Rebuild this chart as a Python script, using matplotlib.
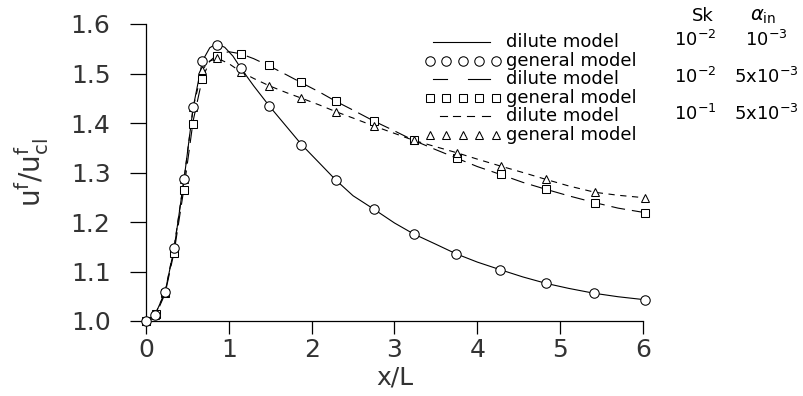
import matplotlib
matplotlib.use("Agg")
import matplotlib.pyplot as plt
from matplotlib.lines import Line2D

plt.rcParams['font.family'] = ['DejaVu Sans']
plt.rcParams['mathtext.fontset'] = 'dejavusans'
plt.rcParams['lines.scale_dashes'] = False

# general model markers
circ_x = [0.0, 0.11, 0.23, 0.34, 0.46, 0.57, 0.68, 0.855, 1.145, 1.49, 1.875, 2.29, 2.75,
          3.23, 3.74, 4.27, 4.83, 5.41, 6.02]
circ_y = [1.0, 1.013, 1.059, 1.147, 1.287, 1.432, 1.525, 1.558, 1.512, 1.434, 1.356, 1.285, 1.226,
          1.176, 1.136, 1.104, 1.076, 1.056, 1.043]

sq_x = [0.0, 0.12, 0.23, 0.34, 0.46, 0.57, 0.68, 0.855, 1.145, 1.49, 1.875, 2.29, 2.75,
        3.23, 3.75, 4.28, 4.83, 5.42, 6.02]
sq_y = [1.0, 1.0135, 1.056, 1.138, 1.265, 1.398, 1.488, 1.536, 1.539, 1.517, 1.482, 1.444, 1.404,
        1.365, 1.329, 1.297, 1.266, 1.239, 1.219]

tri_x = [0.0, 0.11, 0.23, 0.34, 0.46, 0.57, 0.68, 0.855, 1.145, 1.49, 1.875, 2.29, 2.75,
         3.23, 3.75, 4.28, 4.83, 5.42, 6.02]
tri_y = [1.0, 1.013, 1.058, 1.15, 1.287, 1.432, 1.508, 1.531, 1.504, 1.475, 1.450, 1.423, 1.394,
         1.365, 1.340, 1.313, 1.286, 1.260, 1.249]

# dilute model curves
sol_x = [0.0, 0.11, 0.23, 0.34, 0.46, 0.57, 0.68, 0.77, 0.85, 0.95, 1.05, 1.14, 1.3, 1.49, 1.7,
         1.88, 2.1, 2.29, 2.5, 2.75, 3.0, 3.23, 3.5, 3.74, 4.0, 4.27, 4.55, 4.83, 5.1, 5.41, 5.7, 6.02]
sol_y = [1.0, 1.013, 1.058, 1.147, 1.287, 1.432, 1.525, 1.552, 1.56, 1.553, 1.535, 1.512, 1.475,
         1.434, 1.392, 1.356, 1.318, 1.285, 1.253, 1.226, 1.198, 1.176, 1.155, 1.136, 1.119, 1.104,
         1.089, 1.076, 1.066, 1.056, 1.049, 1.043]

ld_x = [0.0, 0.12, 0.23, 0.34, 0.46, 0.57, 0.68, 0.77, 0.86, 1.0, 1.14, 1.3, 1.49, 1.7, 1.88,
        2.1, 2.29, 2.5, 2.75, 3.0, 3.23, 3.5, 3.75, 4.0, 4.28, 4.55, 4.83, 5.1, 5.42, 5.7, 6.02]
ld_y = [1.0, 1.013, 1.055, 1.14, 1.27, 1.405, 1.49, 1.525, 1.538, 1.544, 1.540, 1.53, 1.515,
        1.497, 1.481, 1.462, 1.444, 1.426, 1.404, 1.384, 1.365, 1.346, 1.329, 1.312, 1.296, 1.28,
        1.266, 1.253, 1.239, 1.228, 1.219]

sd_x = [0.0, 0.11, 0.23, 0.34, 0.46, 0.57, 0.68, 0.77, 0.86, 1.0, 1.14, 1.3, 1.49, 1.7, 1.88,
        2.1, 2.29, 2.5, 2.75, 3.0, 3.23, 3.5, 3.75, 4.0, 4.28, 4.55, 4.83, 5.1, 5.42, 5.7, 6.02]
sd_y = [1.0, 1.013, 1.058, 1.15, 1.287, 1.432, 1.508, 1.525, 1.531, 1.52, 1.504, 1.49, 1.475,
        1.461, 1.450, 1.436, 1.423, 1.41, 1.394, 1.379, 1.365, 1.352, 1.340, 1.327, 1.313, 1.3,
        1.286, 1.273, 1.260, 1.254, 1.249]

legend_labels = ["dilute model", "general model", "dilute model", "general model",
                 "dilute model", "general model"]
sk_labels = [r"$10^{-2}$", r"$10^{-2}$", r"$10^{-1}$"]
alpha_labels = [r"$10^{-3}$", r"$5\mathrm{x}10^{-3}$", r"$5\mathrm{x}10^{-3}$"]

W, H = 804, 396
fig = plt.figure(figsize=(W / 100, H / 100), dpi=100)
ax = fig.add_axes([146 / W, 75 / H, 497 / W, 297 / H])

def fx(px):
    return px / W

def fy(py):
    return 1 - py / H

lw = 0.8
long_dash = (0, (10, 5))
short_dash = (0, (4.5, 4))
txt_col = '#333333'

ax.plot(sol_x, sol_y, '-', color='black', lw=lw, clip_on=False)
ax.plot(ld_x, ld_y, color='black', lw=lw, linestyle=long_dash, clip_on=False)
ax.plot(sd_x, sd_y, color='black', lw=lw, linestyle=short_dash, clip_on=False)

mk = dict(linestyle='none', mfc='white', mec='black', mew=0.75, clip_on=False)
ax.plot(sq_x, sq_y, marker='s', ms=5.2, zorder=3, **mk)
ax.plot(tri_x, tri_y, marker='^', ms=5.6, zorder=4, **mk)
ax.plot(circ_x, circ_y, marker='o', ms=6.8, zorder=5, **mk)

ax.set_xlim(0, 6)
ax.set_ylim(1.0, 1.6)
ax.set_xticks(range(0, 7))
ax.set_yticks([1.0, 1.1, 1.2, 1.3, 1.4, 1.5, 1.6])
ax.set_yticklabels(["1.0", "1.1", "1.2", "1.3", "1.4", "1.5", "1.6"])
for s in ['top', 'right']:
    ax.spines[s].set_visible(False)
for s in ['left', 'bottom']:
    ax.spines[s].set_linewidth(0.9)
ax.tick_params(axis='x', direction='out', length=9, width=0.9, pad=3, labelsize=18,
               labelcolor=txt_col)
ax.tick_params(axis='y', direction='out', length=11.5, width=0.9, pad=14, labelsize=18,
               labelcolor=txt_col)

ax.set_xlabel("x/L", fontsize=18, labelpad=3, color=txt_col)
ax.set_ylabel(r"$\mathrm{u^f/u^f_{cl}}$", fontsize=20, labelpad=14, color=txt_col)

# legend block drawn in figure pixels
rows = [42, 61, 79, 98, 116, 135]
lfs = 13
for yy, lab in zip(rows, legend_labels):
    fig.text(fx(506), fy(yy), lab, fontsize=lfs, va='center', ha='left')

def seg(x0, x1, yy, **kw):
    fig.add_artist(Line2D([fx(x0), fx(x1)], [fy(yy), fy(yy)], color='black', lw=lw, **kw))

seg(433, 490, rows[0])
seg(433, 447, rows[2])
seg(468, 490, rows[2])
for a, b in [(440, 447), (453, 460), (467, 474), (482, 490)]:
    seg(a, b, rows[4])

mx = [430, 446.5, 463, 479.5, 496]
fig.add_artist(Line2D([fx(v) for v in mx], [fy(rows[1])] * 5, marker='o', ms=6.8, **mk))
fig.add_artist(Line2D([fx(v) for v in mx], [fy(rows[3])] * 5, marker='s', ms=5.2, **mk))
fig.add_artist(Line2D([fx(v) for v in mx], [fy(rows[5])] * 5, marker='^', ms=5.6, **mk))

fig.text(fx(703), fy(16), "Sk", fontsize=lfs, ha='center', va='center')
fig.text(fx(763), fy(17), r"$\alpha_{\mathrm{in}}$", fontsize=lfs + 1, ha='center', va='center')
for yy, sk, al in zip([rows[0], rows[2], rows[4]], sk_labels, alpha_labels):
    fig.text(fx(695), fy(yy - 2), sk, fontsize=lfs, ha='center', va='center')
    fig.text(fx(766), fy(yy - 2), al, fontsize=lfs, ha='center', va='center')

fig.savefig("out.png", dpi=100)
